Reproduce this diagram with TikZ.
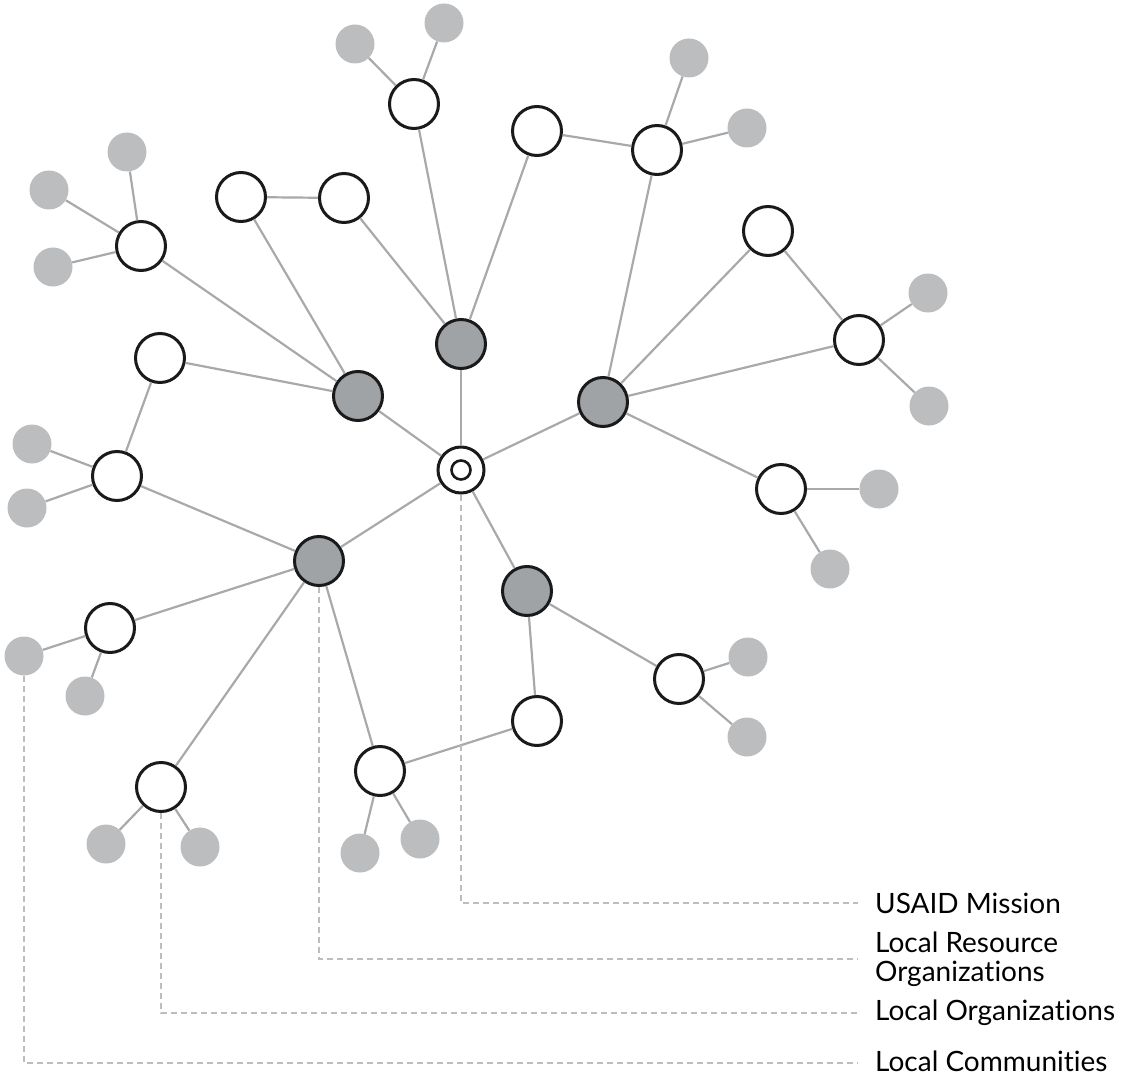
\documentclass[tikz,border=0pt]{standalone}
\usepackage{fontspec}
\setmainfont{Lato}[Ligatures={NoCommon,NoRequired,NoContextual}]
\definecolor{edgegray}{HTML}{A7A9AC}
\definecolor{dotgray}{HTML}{BCBDBF}
\definecolor{darkfill}{HTML}{A0A3A6}
\definecolor{ink}{HTML}{1A1A1A}
\begin{document}
\begin{tikzpicture}[x=1pt,y=-1pt,
  wnode/.style={circle,draw=ink,line width=3pt,fill=white,minimum size=49pt,inner sep=0pt},
  dnode/.style={circle,draw=ink,line width=3pt,fill=darkfill,minimum size=49pt,inner sep=0pt},
  gdot/.style={circle,fill=dotgray,minimum size=39pt,inner sep=0pt},
  cnode/.style={circle,draw=ink,line width=3pt,fill=white,minimum size=46pt,inner sep=0pt},
  cinner/.style={circle,draw=ink,line width=2.6pt,fill=white,minimum size=19pt,inner sep=0pt},
  link/.style={draw=edgegray,line width=2.2pt},
  guide/.style={draw=dotgray,line width=2pt,dash pattern=on 6pt off 4pt},
  lbl/.style={anchor=west,font=\fontsize{28}{29}\selectfont,inner sep=0pt,align=left}
]
\useasboundingbox (0,0) rectangle (1122,1078);
% centre
\node[cnode] (C) at (461,470) {};
\node[cinner] (Ci) at (461,470) {};
% dark nodes
\node[dnode] (D1) at (461,344) {};
\node[dnode] (D2) at (358,396) {};
\node[dnode] (D3) at (603,402) {};
\node[dnode] (D4) at (319,561) {};
\node[dnode] (D5) at (527,591) {};
% white nodes
\node[wnode] (W1) at (414,104) {};
\node[wnode] (W2) at (537,131) {};
\node[wnode] (W3) at (657,150) {};
\node[wnode] (W4) at (241,197) {};
\node[wnode] (W5) at (344,198) {};
\node[wnode] (W6) at (141,246) {};
\node[wnode] (W7) at (160,358) {};
\node[wnode] (W8) at (117,476) {};
\node[wnode] (W9) at (768,231) {};
\node[wnode] (W10) at (859,340) {};
\node[wnode] (W11) at (781,489) {};
\node[wnode] (W12) at (110,628) {};
\node[wnode] (W13) at (161,787) {};
\node[wnode] (W14) at (380,771) {};
\node[wnode] (W15) at (537,721) {};
\node[wnode] (W16) at (679,679) {};
% grey dots
\node[gdot] (g1a) at (355,44) {};
\node[gdot] (g1b) at (444,23) {};
\node[gdot] (g3a) at (689,58) {};
\node[gdot] (g3b) at (747,128) {};
\node[gdot] (g6a) at (127,152) {};
\node[gdot] (g6b) at (49,190) {};
\node[gdot] (g6c) at (53,267) {};
\node[gdot] (g8a) at (32,444) {};
\node[gdot] (g8b) at (27,508) {};
\node[gdot] (g10a) at (928,293) {};
\node[gdot] (g10b) at (929,406) {};
\node[gdot] (g11a) at (879,489) {};
\node[gdot] (g11b) at (830,569) {};
\node[gdot] (g12a) at (24,656) {};
\node[gdot] (g12b) at (85,696) {};
\node[gdot] (g13a) at (106,844) {};
\node[gdot] (g13b) at (200,847) {};
\node[gdot] (g14a) at (360,853) {};
\node[gdot] (g14b) at (420,839) {};
\node[gdot] (g16a) at (748,657) {};
\node[gdot] (g16b) at (747,737) {};
% links
\foreach \a/\b in {C/D1,C/D2,C/D3,C/D4,C/D5,
  D1/W1,D1/W2,D1/W5,
  D2/W4,D2/W6,D2/W7,
  D3/W3,D3/W9,D3/W10,D3/W11,
  D4/W8,D4/W12,D4/W13,D4/W14,
  D5/W15,D5/W16,
  W2/W3,W4/W5,W7/W8,W9/W10,W14/W15,
  W1/g1a,W1/g1b,W3/g3a,W3/g3b,W6/g6a,W6/g6b,W6/g6c,W8/g8a,W8/g8b,
  W10/g10a,W10/g10b,W11/g11a,W11/g11b,W12/g12a,W12/g12b,
  W13/g13a,W13/g13b,W14/g14a,W14/g14b,W16/g16a,W16/g16b}
  {\path[link] (\a) -- (\b);}
% legend
\coordinate (e1) at (858,903);
\coordinate (e2) at (858,959);
\coordinate (e3) at (858,1013);
\coordinate (e4) at (858,1063);
\path[guide] (C.south) |- (e1);
\path[guide] (D4.south) |- (e2);
\path[guide] (W13.south) |- (e3);
\path[guide] (g12a.south) |- (e4);
\node[lbl] (L1) at (875,903) {USAID Mission};
\node[lbl] (L2) at (875,959) {Local Resource\\Organizations};
\node[lbl] (L3) at (875,1013) {Local Organizations};
\node[lbl,anchor=base west] (L4) at (875,1071) {Local Communities};
\end{tikzpicture}
\end{document}
